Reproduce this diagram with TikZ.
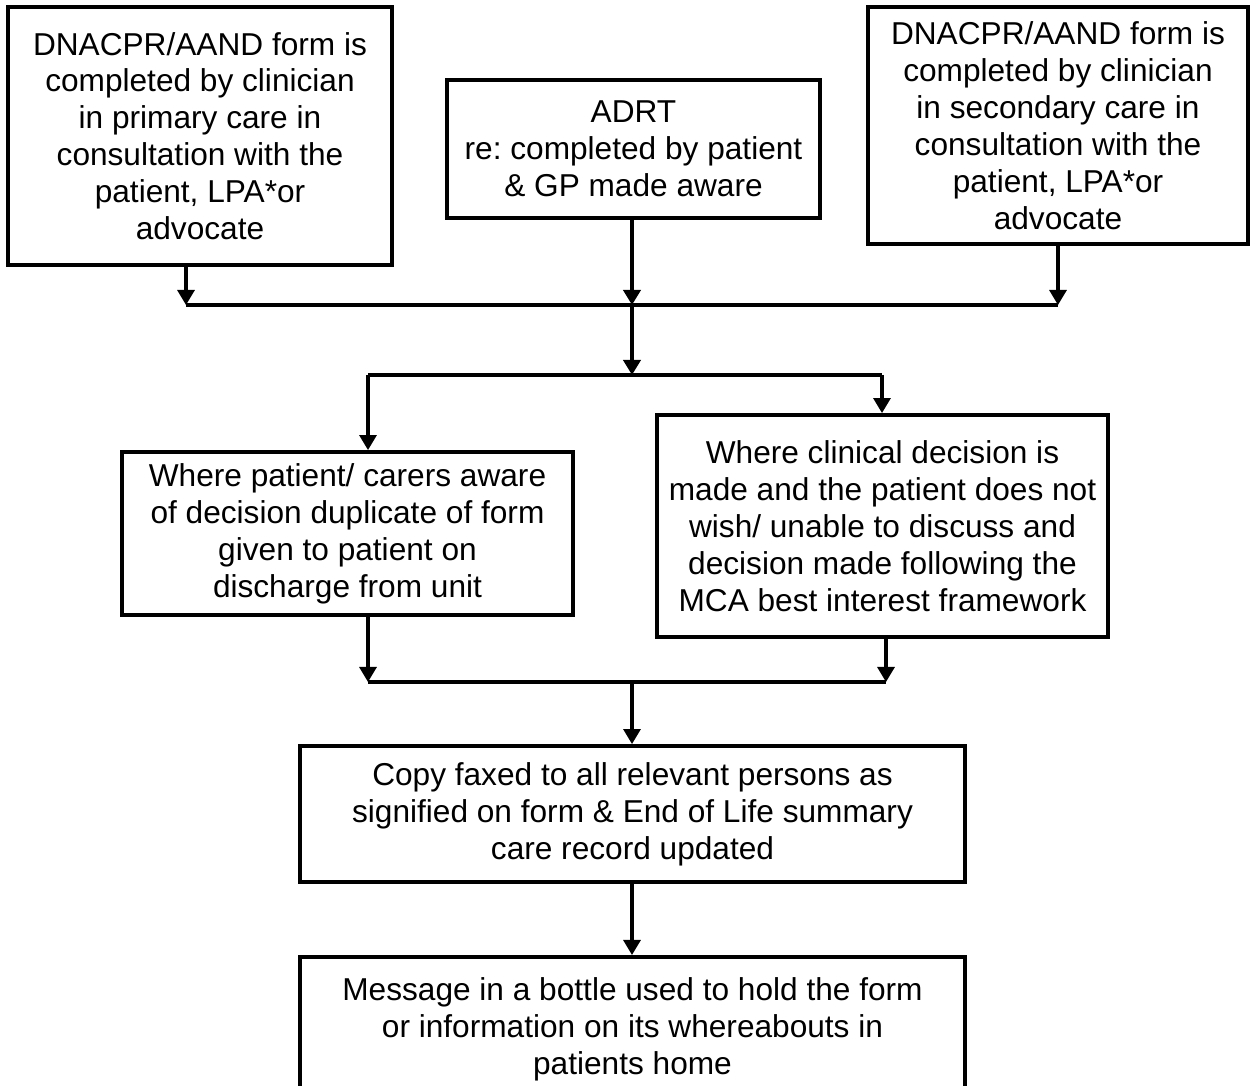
\documentclass[tikz,border=0pt]{standalone}
\usepackage{fontspec}
\setmainfont{Liberation Sans}
\usetikzlibrary{arrows.meta,calc}
\frenchspacing

\begin{document}
\begin{tikzpicture}[box/.style={draw,line width=2.2pt,align=center,inner sep=2pt,font=\fontsize{18}{21}\selectfont},
arr/.style={line width=1.8pt,-{Triangle[width=0.34cm,length=0.3cm]}},
bus/.style={line width=1.8pt}]
\clip (0,0) rectangle (25.1,-21.72);
\node[box,minimum width=7.68cm,minimum height=5.16cm] (prim) at (4.0,-2.72) {DNACPR/AAND form is\\completed by clinician\\in primary care in\\consultation with the\\patient, LPA*or\\advocate};
\node[box,minimum width=7.46cm,minimum height=2.76cm] (adrt) at (12.67,-2.98) {ADRT\\re: completed by patient\\\& GP made aware};
\node[box,minimum width=7.6cm,minimum height=4.74cm] (sec) at (21.16,-2.51) {DNACPR/AAND form is\\completed by clinician\\in secondary care in\\consultation with the\\patient, LPA*or\\advocate};
\node[box,minimum width=9.02cm,minimum height=3.26cm] (aware) at (6.95,-10.67) {Where patient/ carers aware\\of decision duplicate of form\\given to patient on\\discharge from unit};
\node[box,minimum width=9.02cm,minimum height=4.44cm] (mca) at (17.65,-10.52) {Where clinical decision is\\made and the patient does not\\wish/ unable to discuss and\\decision made following the\\MCA best interest framework};
\node[box,minimum width=13.3cm,minimum height=2.72cm] (fax) at (12.65,-16.28) {Copy faxed to all relevant persons as\\signified on form \& End of Life summary\\care record updated};
\node[box,minimum width=13.3cm,minimum height=2.9cm,anchor=north] (bottle) at (12.65,-19.1) {Message in a bottle used to hold the form\\or information on its whereabouts in\\patients home};
\coordinate (topL) at (3.72,-6.1);
\coordinate (topM) at (12.64,-6.1);
\coordinate (topR) at (21.16,-6.1);
\coordinate (midL) at (7.36,-7.5);
\coordinate (midM) at (12.64,-7.5);
\coordinate (midR) at (17.64,-7.5);
\coordinate (lowL) at (7.36,-13.64);
\coordinate (lowM) at (12.64,-13.64);
\coordinate (lowR) at (17.72,-13.64);
\draw[arr] (prim.south -| topL) -- (topL);
\draw[arr,line width=2.2pt] (adrt.south -| topM) -- (topM);
\draw[arr] (sec.south -| topR) -- (topR);
\draw[bus] (topL) -- (topR);
\draw[arr,line width=2.2pt] (topM) -- (midM);
\draw[bus] (midL) -- (midR);
\draw[arr] (midL) -- (midL |- aware.north);
\draw[arr] (midR) -- (midR |- mca.north);
\draw[arr] (aware.south -| lowL) -- (lowL);
\draw[arr] (mca.south -| lowR) -- (lowR);
\draw[bus] (lowL) -- (lowR);
\draw[arr] (lowM) -- (fax.north -| lowM);
\draw[arr] (fax.south -| lowM) -- (bottle.north -| lowM);
\end{tikzpicture}
\end{document}
